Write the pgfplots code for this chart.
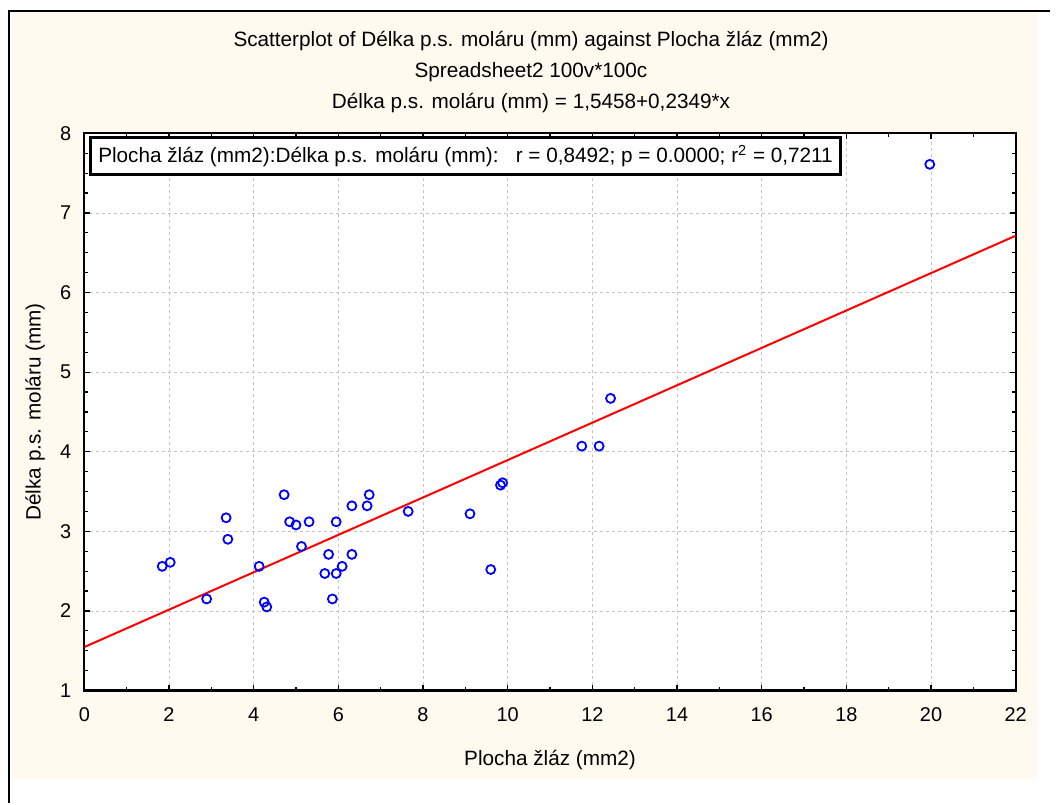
\documentclass[border=0pt]{standalone}
\usepackage{fontspec}
\setmainfont{Liberation Sans}
\usepackage{pgfplots}
\pgfplotsset{compat=1.18}
\usetikzlibrary{backgrounds}
\definecolor{panel}{RGB}{255,250,240}
\definecolor{gridc}{RGB}{195,195,195}

\begin{document}
\begin{tikzpicture}
\begin{axis}[
  scale only axis, width=465.7bp, height=278.6bp,
  xmin=0, xmax=22, ymin=1, ymax=8,
  xtick={0,2,...,22}, ytick={1,...,8},
  minor x tick num=1, minor y tick num=3,
  tick align=inside, xtick pos=both, ytick pos=both,
  major tick length=3bp, minor tick length=1.8bp,
  every tick/.style={black, line width=0.6bp},
  axis line style={line width=1.1bp},
  grid=major,
  major grid style={gridc, line width=0.4bp, dash pattern=on 1.5bp off 1.5bp},
  axis background/.style={fill=white},
  tick label style={font=\fontsize{10}{11}\selectfont},
  /pgf/number format/assume math mode=true,
  xticklabel shift=5.2bp, yticklabel shift=3bp,
  title={Scatterplot of Délka p.s. moláru (mm) against Plocha žláz (mm2)\\
         Spreadsheet2 100v*100c\\
         Délka p.s. moláru (mm) = 1,5458+0,2349*x},
  title style={at={(axis description cs:0.4796,1.0885)}, anchor=center,
    align=center, font=\fontsize{10.4}{15.5}\selectfont},
  xlabel={Plocha žláz (mm2)},
  xlabel style={at={(axis description cs:0.5,-0.1247)}, anchor=center,
    font=\fontsize{10.4}{11}\selectfont},
  ylabel={Délka p.s. moláru (mm)},
  ylabel style={at={(axis description cs:-0.0529,0.5)}, anchor=center,
    font=\fontsize{10.4}{11}\selectfont},
]
\coordinate (O) at (rel axis cs:0,0);
\addplot[red, line width=1bp] coordinates {(0,1.5458) (22,6.7136)};
\addplot[only marks, mark=o, blue, mark size=2.25bp,
  mark options={line width=0.9bp}] coordinates {
  (1.84,2.56) (2.03,2.61) (2.89,2.15) (3.35,3.17) (3.39,2.90)
  (4.13,2.56) (4.25,2.11) (4.31,2.05) (4.72,3.46) (4.85,3.12)
  (5.00,3.08) (5.13,2.81) (5.31,3.12) (5.68,2.47) (5.77,2.71)
  (5.86,2.15) (5.95,2.47) (5.95,3.12) (6.09,2.56) (6.32,2.71)
  (6.32,3.32) (6.68,3.32) (6.73,3.46) (7.65,3.25) (9.11,3.22)
  (9.60,2.52) (9.83,3.58) (9.88,3.61) (11.75,4.07) (12.16,4.07)
  (12.43,4.67) (19.97,7.61)
};
\node[draw, line width=1.3bp, fill=white, anchor=north west,
  inner xsep=4bp, minimum height=18.5bp,
  font=\fontsize{10.4}{11}\selectfont]
  at (rel axis cs:0.005,0.9951)
  {Plocha žláz (mm2):Délka p.s. moláru (mm):\ \ \ r = 0,8492; p = 0.0000; r\textsuperscript{2} = 0,7211};
\end{axis}
% cream panel with its black frame on top and left, behind the axis
\begin{scope}[on background layer, shift={(O)}, x=1bp, y=1bp]
\fill[panel] (-36.15,-44.25) rectangle (476.7,339.25);
\draw[line width=1bp] (-37.65,-56.25) -- (-37.65,339.75) -- (482.85,339.75);
\useasboundingbox (-42.15,-56.25) rectangle (487.35,345.25);
\end{scope}
\end{tikzpicture}
\end{document}
